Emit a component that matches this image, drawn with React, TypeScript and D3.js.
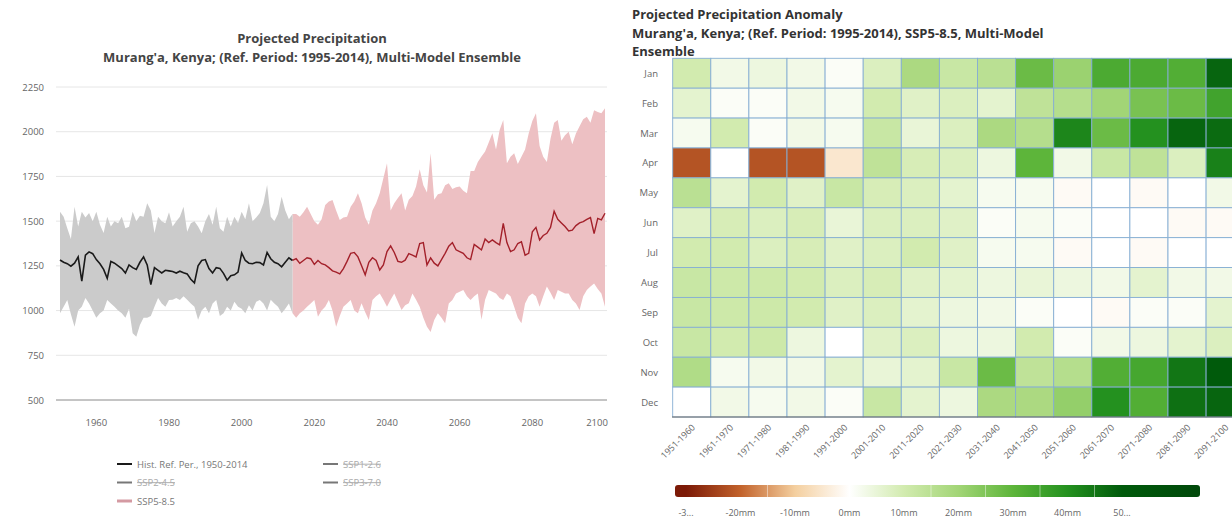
import { useRef, useEffect } from "react";
import * as d3 from "d3";

// ---- line chart data (annual, mm) ----
const histStart = 1950;
const histMean = [
  1283, 1270, 1262, 1248, 1265, 1300, 1165, 1310, 1328, 1318, 1285, 1262, 1230, 1180, 1275, 1265, 1250,
  1235, 1210, 1255, 1240, 1230, 1270, 1300, 1255, 1145, 1240, 1225, 1210, 1225, 1222, 1218, 1210, 1220,
  1212, 1205, 1175, 1155, 1250, 1280, 1285, 1235, 1210, 1240, 1236, 1208, 1170, 1195, 1200, 1215, 1322,
  1280, 1265, 1262, 1270, 1268, 1255, 1325, 1290, 1270, 1262, 1245, 1270, 1295, 1280,
];
const histHigh = [
  1553, 1525, 1460, 1400, 1581, 1470, 1553, 1520, 1545, 1500, 1553, 1480, 1434, 1525, 1470, 1500, 1488,
  1525, 1460, 1469, 1553, 1500, 1530, 1525, 1600, 1560, 1434, 1525, 1500, 1488, 1550, 1470, 1500, 1525,
  1581, 1440, 1488, 1500, 1470, 1432, 1500, 1540, 1480, 1581, 1460, 1440, 1525, 1470, 1525, 1490, 1553,
  1510, 1600, 1500, 1520, 1545, 1600, 1702, 1525, 1500, 1540, 1637, 1560, 1510, 1540,
];
const histLow = [
  985, 1022, 1059, 980, 910, 1000, 1022, 1070, 1040, 1000, 960, 985, 1000, 1059, 1040, 1022, 1000, 985,
  960, 1010, 873, 854, 920, 960, 960, 970, 1022, 1070, 1040, 1022, 1059, 1060, 1070, 1059, 1080, 1060,
  1040, 1022, 948, 1000, 1022, 985, 1040, 1059, 970, 985, 1022, 1000, 1050, 1022, 1010, 985, 1030, 1000,
  1050, 1059, 1040, 1000, 1060, 1040, 1022, 985, 1010, 1040, 985,
];

const sspStart = 2015;
const sspMean = [
  1290, 1264, 1280, 1295, 1290, 1258, 1280, 1262, 1255, 1240, 1222, 1215, 1205, 1235, 1275, 1320, 1325,
  1300, 1250, 1200, 1270, 1295, 1280, 1227, 1255, 1330, 1362, 1325, 1275, 1270, 1282, 1318, 1310, 1300,
  1375, 1380, 1255, 1295, 1265, 1250, 1285, 1320, 1360, 1380, 1340, 1330, 1320, 1295, 1285, 1370, 1355,
  1339, 1400, 1380, 1395, 1380, 1367, 1488, 1380, 1330, 1340, 1375, 1385, 1310, 1320, 1440, 1465, 1395,
  1420, 1432, 1465, 1555, 1510, 1490, 1470, 1445, 1450, 1475, 1490, 1497, 1510, 1520, 1430, 1515, 1507,
  1544,
];
const sspHigh = [
  1540, 1525, 1550, 1581, 1540, 1500, 1480, 1510, 1590, 1610, 1618, 1560, 1507, 1520, 1525, 1580, 1610,
  1656, 1600, 1520, 1480, 1560, 1600, 1656, 1740, 1824, 1560, 1600, 1630, 1656, 1560, 1620, 1640, 1693,
  1790, 1700, 1660, 1880, 1620, 1650, 1656, 1700, 1712, 1680, 1690, 1693, 1670, 1656, 1780, 1780, 1830,
  1861, 1890, 1940, 1991, 1900, 2010, 2066, 1824, 1860, 1880, 1820, 1860, 1900, 1990, 2060, 2103, 1920,
  1860, 1830, 1960, 2050, 2066, 1950, 1980, 2000, 1930, 1990, 2030, 2070, 2084, 2050, 2120, 2110, 2103,
  2131,
];
const sspLow = [
  960, 985, 1000, 1022, 1040, 1059, 966, 1000, 1022, 1059, 1000, 910, 970, 1022, 1040, 1059, 1000, 985,
  1041, 990, 947, 1059, 1080, 1096, 1060, 1022, 1060, 1096, 1050, 1003, 1030, 1041, 1096, 1060, 1022, 960,
  910, 880, 947, 985, 960, 929, 1040, 1059, 1096, 1105, 1115, 1080, 1059, 1080, 1096, 948, 1060, 1115,
  1105, 1096, 1070, 1059, 1096, 1080, 1022, 960, 929, 1040, 1080, 1096, 1080, 1022, 1080, 1134, 1100,
  1059, 1115, 1105, 1096, 1096, 1059, 1040, 1003, 1080, 1115, 1134, 1152, 1120, 1096, 1022,
];

const yTicks = [500, 750, 1000, 1250, 1500, 1750, 2000, 2250];
const xTicks = [1960, 1980, 2000, 2020, 2040, 2060, 2080, 2100];

// ---- heatmap data (anomaly, mm) ----
const months = ["Jan", "Feb", "Mar", "Apr", "May", "Jun", "Jul", "Aug", "Sep", "Oct", "Nov", "Dec"];
const decades = [
  "1951-1960", "1961-1970", "1971-1980", "1981-1990", "1991-2000", "2001-2010", "2011-2020", "2021-2030",
  "2031-2040", "2041-2050", "2051-2060", "2061-2070", "2071-2080", "2081-2090", "2091-2100",
];
const anomaly = [
  [10, 3, 4, 3, 1, 8, 18, 12, 15, 28, 21, 33, 33, 32, 48],
  [6, 1, 1, 3, 2, 10, 7, 8, 6, 14, 16, 20, 26, 28, 35],
  [2, 10, 1, 3, 2, 12, 5, 8, 18, 16, 42, 28, 40, 48, 47],
  [-22, 0, -22, -22, -5, 14, 9, 8, 4, 30, 3, 12, 14, 8, 43],
  [15, 6, 10, 7, 12, 9, 8, 6, 2, 2, -1, 0, -1, 0, 3],
  [7, 9, 8, 9, 5, 8, 8, 7, 1, 2, 1, 0, 0, -1, -1],
  [10, 10, 8, 9, 7, 8, 10, 7, 2, 2, -1, 0, -1, 0, 0],
  [12, 11, 11, 10, 8, 9, 7, 6, 4, 5, 4, 3, 6, 3, 3],
  [12, 11, 11, 10, 7, 8, 6, 4, 3, 1, 0, -1, 1, 1, 6],
  [12, 10, 11, 4, 0, 7, 8, 4, 4, 10, 1, 3, 4, 6, 8],
  [17, 2, 3, 3, 6, 5, 6, 12, 28, 14, 16, 32, 34, 45, 50],
  [0, 3, 2, 3, 1, 12, 6, 4, 18, 18, 22, 40, 32, 46, 48],
];
const legendStops = [-30, -20, -10, 0, 10, 20, 30, 40, 50];
const legendLabels = ["-3...", "-20mm", "-10mm", "0mm", "10mm", "20mm", "30mm", "40mm", "50..."];

const FONT = "'Open Sans', 'Noto Sans', sans-serif";

export default function App() {
  const svgRef = useRef<SVGSVGElement>(null);

  useEffect(() => {
    if (!svgRef.current) return;
    const svg = d3.select(svgRef.current);
    svg.selectAll("*").remove();

    // ================= left: line chart =================
    const x = d3.scaleLinear().domain([1950, 2100]).range([60, 605]);
    const y = d3.scaleLinear().domain([500, 2250]).range([400, 87]);
    const left = svg.append("g");

    left.append("text").attr("x", 312).attr("y", 43).attr("text-anchor", "middle")
      .attr("font-weight", 700).attr("font-size", 13).attr("fill", "#444")
      .text("Projected Precipitation");
    left.append("text").attr("x", 312).attr("y", 62).attr("text-anchor", "middle")
      .attr("font-weight", 700).attr("font-size", 13).attr("fill", "#444")
      .text("Murang'a, Kenya; (Ref. Period: 1995-2014), Multi-Model Ensemble");

    // grid
    left.selectAll("line.grid").data(yTicks.slice(1)).join("line")
      .attr("x1", 56).attr("x2", 607)
      .attr("y1", (d) => y(d)).attr("y2", (d) => y(d))
      .attr("stroke", "#e6e6e6").attr("stroke-width", 1);
    left.selectAll("text.ytick").data(yTicks).join("text")
      .attr("x", 44).attr("y", (d) => y(d) + 3.5).attr("text-anchor", "end")
      .attr("font-size", 9.5).attr("fill", "#666").text((d) => d);

    const hist = histMean.map((v, i) => ({ yr: histStart + i, m: v, hi: histHigh[i], lo: histLow[i] }));
    const ssp = sspMean.map((v, i) => ({ yr: sspStart + i, m: v, hi: sspHigh[i], lo: sspLow[i] }));
    const sspJoined = [hist[hist.length - 1], ...ssp];
    const area = d3.area<{ yr: number; hi: number; lo: number }>()
      .x((d) => x(d.yr)).y0((d) => y(d.lo)).y1((d) => y(d.hi));
    const line = d3.line<{ yr: number; m: number }>().x((d) => x(d.yr)).y((d) => y(d.m));

    left.append("path").datum(sspJoined).attr("d", area).attr("fill", "#edc0c3");
    left.append("path").datum(hist).attr("d", area).attr("fill", "#cbcbcb");
    left.append("path").datum(hist).attr("d", line).attr("fill", "none")
      .attr("stroke", "#1a1a1a").attr("stroke-width", 1.6);
    left.append("path").datum(sspJoined).attr("d", line).attr("fill", "none")
      .attr("stroke", "#a3202a").attr("stroke-width", 1.4);

    // baseline & x labels
    left.append("line").attr("x1", 56).attr("x2", 607).attr("y1", y(500)).attr("y2", y(500))
      .attr("stroke", "#8a8a8a").attr("stroke-width", 1);
    left.selectAll("text.xtick").data(xTicks).join("text")
      .attr("x", (d) => (d === 2100 ? x(d) - 8 : x(d)))
      .attr("y", 426).attr("text-anchor", "middle")
      .attr("font-size", 9.5).attr("fill", "#666").text((d) => d);

    // legend
    const legendItems = [
      { label: "Hist. Ref. Per., 1950-2014", color: "#1a1a1a", on: true, col: 0, row: 0 },
      { label: "SSP1-2.6", color: "#777", on: false, col: 1, row: 0 },
      { label: "SSP2-4.5", color: "#777", on: false, col: 0, row: 1 },
      { label: "SSP3-7.0", color: "#777", on: false, col: 1, row: 1 },
      { label: "SSP5-8.5", color: "#d49aa2", on: true, col: 0, row: 2 },
    ];
    const lg = left.selectAll("g.lg").data(legendItems).join("g")
      .attr("transform", (d) => `translate(${d.col ? 323 : 117},${464 + d.row * 18.5})`);
    lg.append("line").attr("x1", 0).attr("x2", 15).attr("y1", 0).attr("y2", 0)
      .attr("stroke", (d) => d.color).attr("stroke-width", (d) => (d.label === "SSP5-8.5" ? 3 : 2));
    lg.append("text").attr("x", 20).attr("y", 3.5).attr("font-size", 9.5)
      .attr("fill", (d) => (d.on ? "#777" : "#aaa"))
      .attr("text-decoration", (d) => (d.on ? "none" : "line-through"))
      .text((d) => d.label);

    // ================= right: heatmap =================
    const right = svg.append("g");
    const titleLines = [
      "Projected Precipitation Anomaly",
      "Murang'a, Kenya; (Ref. Period: 1995-2014), SSP5-8.5, Multi-Model",
      "Ensemble",
    ];
    right.selectAll("text.title").data(titleLines).join("text")
      .attr("x", 632).attr("y", (_d, i) => 19 + i * 18.5)
      .attr("font-weight", 700).attr("font-size", 13).attr("fill", "#333")
      .text((d) => d);

    const hx = d3.scaleBand().domain(decades).range([672.7, 672.7 + 38.1 * 15]);
    const hy = d3.scaleBand().domain(months).range([58.3, 417]);
    const color = d3.scaleLinear<string>().domain(legendStops)
      .range(["#7c1a07", "#c2622b", "#f4cf9f", "#ffffff", "#d2ebaf", "#a2d576", "#5db53a", "#24911f", "#005a0b"])
      .clamp(true);

    const cells = anomaly.flatMap((row, r) => row.map((v, c) => ({ m: months[r], d: decades[c], v })));
    right.selectAll("rect.cell").data(cells).join("rect")
      .attr("x", (d) => hx(d.d)!).attr("y", (d) => hy(d.m)!)
      .attr("width", hx.bandwidth()).attr("height", hy.bandwidth())
      .attr("fill", (d) => color(d.v))
      .attr("stroke", "#86aed3").attr("stroke-width", 0.9);

    right.append("line").attr("x1", 672).attr("x2", 1232).attr("y1", 417).attr("y2", 417)
      .attr("stroke", "#666").attr("stroke-width", 1);

    right.selectAll("text.month").data(months).join("text")
      .attr("x", 658).attr("y", (d) => hy(d)! + hy.bandwidth() / 2 + 3.5)
      .attr("text-anchor", "end").attr("font-size", 9.5).attr("fill", "#666").text((d) => d);

    right.selectAll("text.dec").data(decades).join("text")
      .attr("transform", (d) => `translate(${hx(d)! + hx.bandwidth() / 2 + 4},${428}) rotate(-45)`)
      .attr("text-anchor", "end").attr("font-size", 9).attr("fill", "#666").text((d) => d);

    // color legend: labels evenly spaced, bar colours follow the same positions
    const lx = d3.scaleLinear().domain([-30, 50]).range([686, 1122]);
    const barX0 = 675;
    const barX1 = 1200;
    const defs = svg.append("defs");
    const grad = defs.append("linearGradient").attr("id", "anomGrad")
      .attr("gradientUnits", "userSpaceOnUse")
      .attr("x1", barX0).attr("x2", barX1).attr("y1", 0).attr("y2", 0);
    grad.append("stop").attr("offset", "0%").attr("stop-color", color(-30));
    legendStops.forEach((s) => {
      grad.append("stop").attr("offset", `${((lx(s) - barX0) / (barX1 - barX0)) * 100}%`)
        .attr("stop-color", color(s));
    });
    grad.append("stop").attr("offset", "100%").attr("stop-color", "#00480a");
    right.append("rect").attr("x", barX0).attr("y", 485).attr("width", barX1 - barX0).attr("height", 12)
      .attr("rx", 3).attr("fill", "url(#anomGrad)");
    right.selectAll("line.sep").data([-20, 10, 20, 30, 40]).join("line")
      .attr("x1", (d) => lx(d) + 27).attr("x2", (d) => lx(d) + 27).attr("y1", 485).attr("y2", 497)
      .attr("stroke", "#fff").attr("stroke-opacity", 0.45).attr("stroke-width", 1);
    right.selectAll("text.leg").data(legendLabels).join("text")
      .attr("x", (_d, i) => lx(legendStops[i]))
      .attr("y", 516).attr("text-anchor", "middle").attr("font-size", 9).attr("fill", "#666")
      .text((d) => d);
  }, []);

  return (
    <svg
      ref={svgRef}
      width={1232}
      height={526}
      style={{ position: "absolute", left: 0, top: 0, background: "#fff", fontFamily: FONT }}
    />
  );
}
